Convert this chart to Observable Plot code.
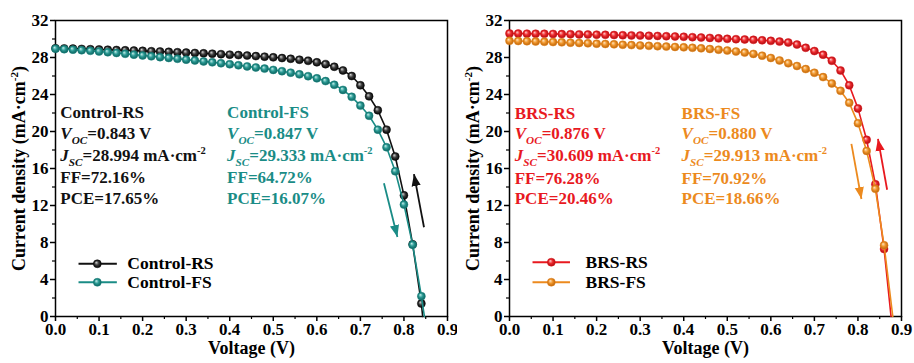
<!DOCTYPE html>
<html><head><meta charset="utf-8">
<script src="https://cdn.jsdelivr.net/npm/d3@7"></script>
<script src="https://cdn.jsdelivr.net/npm/@observablehq/plot@0.6"></script>
<style>
body{margin:0;background:#fff;}
#wrap{display:flex;width:914px;height:363px;overflow:hidden;}
</style></head><body>
<svg width="0" height="0" style="position:absolute"><defs>
<radialGradient id="gBlack" cx="0.5" cy="0.5" r="0.5" fx="0.35" fy="0.32"><stop offset="0" stop-color="#d8d8d8"/><stop offset="0.5" stop-color="#3c3c3c"/><stop offset="1" stop-color="#000"/></radialGradient>
<radialGradient id="gTeal" cx="0.5" cy="0.5" r="0.5" fx="0.35" fy="0.32"><stop offset="0" stop-color="#c8f0ec"/><stop offset="0.5" stop-color="#2a9a94"/><stop offset="1" stop-color="#0c5f5b"/></radialGradient>
<radialGradient id="gRed" cx="0.5" cy="0.5" r="0.5" fx="0.35" fy="0.32"><stop offset="0" stop-color="#ffd0d0"/><stop offset="0.5" stop-color="#ee2a2e"/><stop offset="1" stop-color="#a80c10"/></radialGradient>
<radialGradient id="gOrange" cx="0.5" cy="0.5" r="0.5" fx="0.35" fy="0.32"><stop offset="0" stop-color="#ffe6c0"/><stop offset="0.5" stop-color="#f0952a"/><stop offset="1" stop-color="#b8620a"/></radialGradient>
</defs></svg>
<div id="wrap"></div>
<script>
// ---------- data ----------
const voltageLeft = [0.00,0.02,0.04,0.06,0.08,0.10,0.12,0.14,0.16,0.18,0.20,0.22,0.24,0.26,0.28,0.30,0.32,0.34,0.36,0.38,0.40,0.42,0.44,0.46,0.48,0.50,0.52,0.54,0.56,0.58,0.60,0.62,0.64,0.66,0.68,0.70,0.72,0.74,0.76,0.78,0.80,0.82,0.84];
const controlRS = [29.00,28.98,28.96,28.93,28.90,28.87,28.84,28.81,28.78,28.75,28.72,28.68,28.65,28.61,28.57,28.53,28.49,28.45,28.41,28.36,28.31,28.26,28.21,28.15,28.09,28.02,27.94,27.86,27.76,27.64,27.48,27.28,27.00,26.60,26.00,25.00,23.80,22.30,20.20,17.30,13.10,7.80,1.40];
const controlFS = [28.95,28.90,28.85,28.79,28.72,28.65,28.57,28.49,28.40,28.31,28.22,28.13,28.04,27.95,27.86,27.77,27.68,27.58,27.48,27.38,27.27,27.16,27.04,26.92,26.80,26.66,26.52,26.36,26.18,25.98,25.75,25.45,25.05,24.50,23.75,22.80,21.70,20.20,18.30,15.70,12.10,7.75,2.20];
const voltageRight = [0.00,0.02,0.04,0.06,0.08,0.10,0.12,0.14,0.16,0.18,0.20,0.22,0.24,0.26,0.28,0.30,0.32,0.34,0.36,0.38,0.40,0.42,0.44,0.46,0.48,0.50,0.52,0.54,0.56,0.58,0.60,0.62,0.64,0.66,0.68,0.70,0.72,0.74,0.76,0.78,0.80,0.82,0.84,0.86];
const brsRS = [30.60,30.59,30.58,30.57,30.56,30.55,30.53,30.52,30.50,30.49,30.47,30.45,30.43,30.41,30.39,30.37,30.35,30.33,30.30,30.27,30.24,30.20,30.16,30.12,30.07,30.02,29.98,29.95,29.91,29.86,29.80,29.72,29.62,29.40,29.05,28.70,28.30,27.65,26.60,25.00,22.50,19.10,14.30,7.30];
const brsFS = [29.80,29.78,29.76,29.73,29.70,29.67,29.64,29.60,29.57,29.53,29.49,29.46,29.42,29.38,29.34,29.30,29.26,29.22,29.18,29.14,29.10,29.05,28.99,28.92,28.84,28.75,28.65,28.53,28.39,28.20,27.95,27.68,27.38,27.08,26.75,26.35,25.88,25.20,24.40,23.10,20.90,17.90,13.80,7.70];
const vocValues = {controlRS: 0.843, controlFS: 0.847, brsRS: 0.876, brsFS: 0.880};

const ctrlRSText = ["Control-RS", "V_{OC}=0.843 V", "J_{SC}=28.994 mA·cm^{-2}", "FF=72.16%", "PCE=17.65%"];
const ctrlFSText = ["Control-FS", "V_{OC}=0.847 V", "J_{SC}=29.333 mA·cm^{-2}", "FF=64.72%", "PCE=16.07%"];
const brsRSText = ["BRS-RS", "V_{OC}=0.876 V", "J_{SC}=30.609 mA·cm^{-2}", "FF=76.28%", "PCE=20.46%"];
const brsFSText = ["BRS-FS", "V_{OC}=0.880 V", "J_{SC}=29.913 mA·cm^{-2}", "FF=70.92%", "PCE=18.66%"];

const xTicks = [0,0.1,0.2,0.3,0.4,0.5,0.6,0.7,0.8,0.9];
const xMinorTicks = [0.05,0.15,0.25,0.35,0.45,0.55,0.65,0.75,0.85];
const yTicks = [0,4,8,12,16,20,24,28,32];
const yMinorTicks = [2,6,10,14,18,22,26,30];
const xLabel = "Voltage (V)";
const yLabel = "Current density (mA·cm^{-2})";

const colors = {black: "#111111", teal: "#1a8c86", red: "#e8191f", orange: "#ec8a1e"};

// ---------- helpers ----------
function richify(svg) {
  d3.select(svg).selectAll("text").each(function () {
    const s = this.textContent;
    if (!/[_^]\{/.test(s)) return;
    this.textContent = "";
    const re = /([A-Za-z])_\{([^}]*)\}|\^\{([^}]*)\}|([^_^]+)/g;
    let m, reset = 0;
    const sel = d3.select(this);
    while ((m = re.exec(s)) !== null) {
      if (m[1]) {
        sel.append("tspan").attr("font-style", "italic").attr("dy", reset || null).text(m[1]);
        sel.append("tspan").attr("font-style", "italic").attr("font-size", "0.66em").attr("dy", 5).text(m[2]);
        reset = -5;
      } else if (m[3]) {
        sel.append("tspan").attr("font-size", "0.62em").attr("dy", reset - 7).text(m[3]);
        reset = 7;
      } else if (m[4]) {
        sel.append("tspan").attr("dy", reset || null).text(m[4]);
        reset = 0;
      }
    }
  });
}

let panelCount = 0;
function panel(cfg) {
  const pid = "p" + (panelCount++);
  const marks = [
    Plot.frame({stroke: "#000", strokeWidth: 1.5}),
    Plot.axisX(xTicks, {tickSize: 5, tickPadding: 1, tickFormat: d3.format(".1f"), label: null, strokeWidth: 1.5}),
    Plot.axisX(xMinorTicks, {tickSize: 3, tickFormat: () => "", label: null, strokeWidth: 1.2}),
    Plot.axisY(yTicks, {tickSize: 5, tickPadding: 2, label: null, strokeWidth: 1.5}),
    Plot.axisY(yMinorTicks, {tickSize: 3, tickFormat: () => "", label: null, strokeWidth: 1.2}),
    Plot.text([xLabel], {text: d => d, frameAnchor: "bottom", dy: 37, fontSize: 18}),
    Plot.text([yLabel], {text: d => d, frameAnchor: "left", textAnchor: "middle", rotate: -90, dx: -36, fontSize: 18})
  ];
  for (const s of cfg.series) {
    const pts = cfg.voltage.map((x, i) => ({x, y: s.J[i]}));
    marks.push(Plot.line(pts.concat([{x: s.voc, y: 0}]), {x: "x", y: "y", stroke: s.color, strokeWidth: 1.6}));
    marks.push(Plot.dot(pts, {x: "x", y: "y", r: 4, fill: s.grad, stroke: s.color, strokeWidth: 0.5}));
  }
  cfg.series.forEach((s, k) => {
    const rows = s.text.map((t, i) => ({x: s.textX, y: cfg.rowY[i], t}));
    marks.push(Plot.text(rows, {x: "x", y: "y", text: "t", textAnchor: "start", fill: s.color, fontSize: 17}));
    const lg = [{x1: cfg.legend.x1, x2: cfg.legend.x2, xm: cfg.legend.xm, xt: cfg.legend.xt, y: cfg.legend.y[k], name: s.name}];
    marks.push(Plot.ruleY(lg, {y: "y", x1: "x1", x2: "x2", stroke: s.color, strokeWidth: 2}));
    marks.push(Plot.dot(lg, {x: "xm", y: "y", r: 4, fill: s.grad, stroke: s.color, strokeWidth: 0.5}));
    marks.push(Plot.text(lg, {x: "xt", y: "y", text: "name", textAnchor: "start", fill: "#000", fontSize: 17.5}));
    marks.push(Plot.link([s.arrow], {x1: "x1", y1: "y1", x2: "x2", y2: "y2", stroke: s.color, strokeWidth: 1.8}));
  });
  const svg = Plot.plot({
    width: 457, height: 363,
    marginLeft: cfg.marginLeft, marginRight: cfg.marginRight, marginTop: 20, marginBottom: 47,
    x: {domain: [0, 0.9]},
    y: {domain: [0, 32]},
    style: {fontFamily: "'Liberation Serif','Times New Roman',serif", fontWeight: "bold", fontSize: "17px", color: "#000", background: "#fff"},
    marks
  });
  richify(svg);
  const root = d3.select(svg);
  const defs = root.insert("defs", ":first-child");
  const links = root.selectAll('g[aria-label="link"] path').nodes();
  cfg.series.forEach((s, k) => {
    const id = `${pid}-head-${k}`;
    defs.append("marker")
      .attr("id", id)
      .attr("viewBox", "-12 -6 12 12")
      .attr("refX", 0).attr("refY", 0)
      .attr("markerWidth", 12).attr("markerHeight", 12)
      .attr("markerUnits", "userSpaceOnUse")
      .attr("orient", "auto")
      .append("path").attr("d", "M-12,-4.6L0,0L-12,4.6Z").attr("fill", s.color).attr("stroke", "none");
    if (links[k]) links[k].setAttribute("marker-end", `url(#${id})`);
  });
  return svg;
}

const left = panel({
  voltage: voltageLeft, marginLeft: 55, marginRight: 10,
  rowY: [22.05, 19.73, 17.4, 15.03, 12.76],
  legend: {x1: 0.054, x2: 0.142, xm: 0.096, xt: 0.165, y: [5.7, 3.7]},
  series: [
    {name: "Control-RS", J: controlRS, voc: vocValues.controlRS, color: colors.black, grad: "url(#gBlack)", text: ctrlRSText, textX: 0.011,
     arrow: {x1: 0.846, y1: 9.65, x2: 0.823, y2: 15.4}},
    {name: "Control-FS", J: controlFS, voc: vocValues.controlFS, color: colors.teal, grad: "url(#gTeal)", text: ctrlFSText, textX: 0.394,
     arrow: {x1: 0.754, y1: 14.4, x2: 0.785, y2: 8.6}}
  ]
});
const right = panel({
  voltage: voltageRight, marginLeft: 52, marginRight: 13,
  rowY: [21.95, 19.8, 17.4, 14.95, 12.76],
  legend: {x1: 0.054, x2: 0.140, xm: 0.096, xt: 0.1745, y: [5.87, 3.71]},
  series: [
    {name: "BRS-RS", J: brsRS, voc: vocValues.brsRS, color: colors.red, grad: "url(#gRed)", text: brsRSText, textX: 0.012,
     arrow: {x1: 0.867, y1: 13.7, x2: 0.846, y2: 19.2}},
    {name: "BRS-FS", J: brsFS, voc: vocValues.brsFS, color: colors.orange, grad: "url(#gOrange)", text: brsFSText, textX: 0.395,
     arrow: {x1: 0.785, y1: 18.67, x2: 0.808, y2: 12.7}}
  ]
});
document.getElementById("wrap").append(left, right);
</script>
</body></html>
